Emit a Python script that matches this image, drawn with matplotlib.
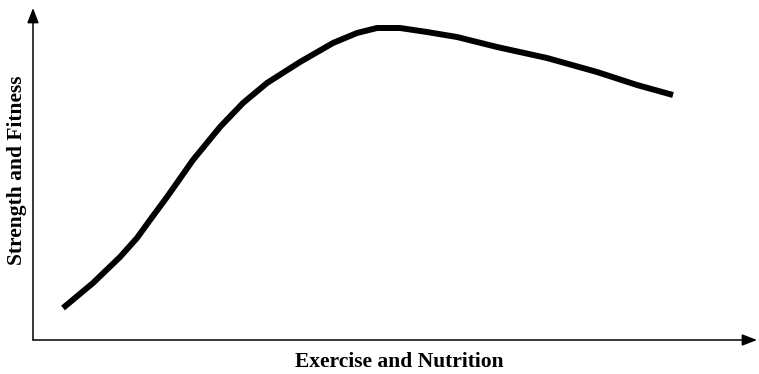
import matplotlib

matplotlib.use("Agg")
import matplotlib.pyplot as plt

# Curve, in pixels from the axis origin
effort = [30, 60, 87, 104, 117, 134, 160, 187, 210, 234, 267, 300, 324,
          344, 367, 394, 424, 464, 514, 564, 604, 640]
fitness = [32, 57, 83, 102, 120, 143, 180, 213, 237, 257, 278, 297, 307,
           312, 312, 308, 303, 293, 282, 268, 255, 245]

X_LABEL = "Exercise and Nutrition"
Y_LABEL = "Strength and Fitness"

W, H = 759, 374
fig = plt.figure(figsize=(W / 100, H / 100), dpi=100)
# axes box spans the drawn axis lines (origin at 33,340 px)
ax = fig.add_axes([33 / W, (H - 340) / H, (757 - 33) / W, (340 - 8) / H])
ax.set_xlim(0, 757 - 33)
ax.set_ylim(0, 340 - 8)
ax.axis("off")

ax.plot(effort, fitness, color="black", lw=4.3, solid_capstyle="butt",
        solid_joinstyle="round")

arrow = dict(arrowstyle="-|>,head_length=0.9,head_width=0.35", color="black",
             lw=1.1, shrinkA=0, shrinkB=0)
ax.annotate("", xy=(1, 0), xytext=(0, 0), xycoords="axes fraction",
            arrowprops=arrow)
ax.annotate("", xy=(0, 1), xytext=(0, 0), xycoords="axes fraction",
            arrowprops=arrow)

font = dict(family="Liberation Serif", fontweight="bold", fontsize=15.5)
fig.text(399 / W, 1 - 362 / H, X_LABEL, ha="center", va="center", **font)
fig.text(17 / W, 1 - 170 / H, Y_LABEL, ha="center", va="center",
         rotation=90, **font)

fig.savefig("out.png", dpi=100)
